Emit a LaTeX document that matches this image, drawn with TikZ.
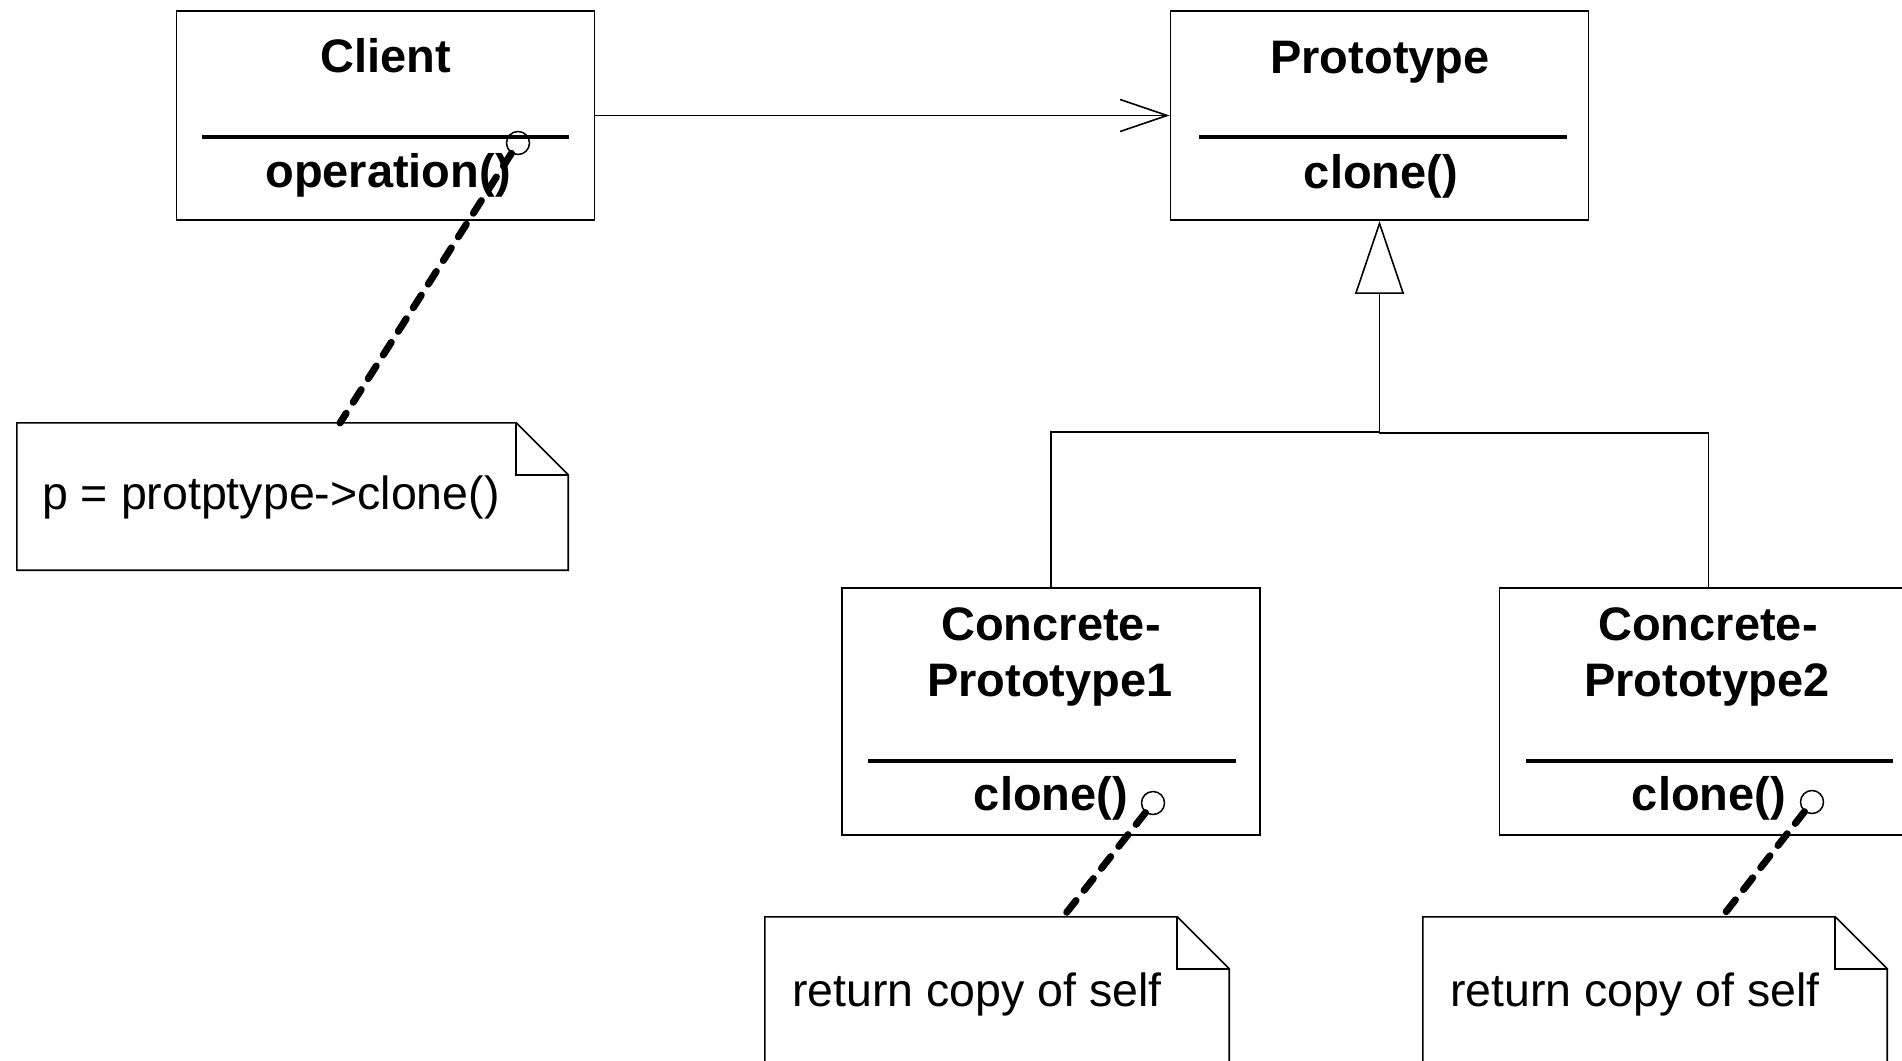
\documentclass[tikz,border=0pt]{standalone}
\usepackage{fontspec}
\setmainfont{Liberation Sans}
\usetikzlibrary{arrows.meta,calc}
\begin{document}
\begin{tikzpicture}[x=1pt,y=-1pt,
  cls/.style={draw,line width=1.8pt,inner sep=0pt,minimum width=418pt},
  ttl/.style={font=\fontsize{47}{56}\selectfont\bfseries,anchor=base,inner sep=0pt},
  ntext/.style={font=\fontsize{46.5}{56}\selectfont,anchor=base west,inner sep=0pt},
  sepline/.style={line width=3.2pt},
  dot/.style={circle,draw,line width=1.5pt,minimum size=23pt,inner sep=0pt},
  dashlink/.style={line width=7pt,dash pattern=on 15pt off 13pt,line cap=round},
  conn/.style={line width=1.6pt},
  notebox/.style={draw=none,inner sep=0pt},
  noteline/.style={line width=1.6pt}
]
\useasboundingbox (0,0) rectangle (1902,1060);

% classes
\node[cls,minimum height=209pt] (client) at (385.5,115.5) {};
\node[cls,minimum height=209pt] (proto) at (1379.5,115.5) {};
\node[cls,minimum height=247pt] (cp1) at (1051,711.5) {};
\node[cls,minimum height=247pt] (cp2) at (1708.5,711.5) {};

% Client contents
\node[ttl] (clientT) at (386,72) {Client};
\draw[sepline] (202,137) -- (569,137);
\node[ttl] (clientOp) at (388,187) {operation()};
\node[dot] (c1) at (518,143) {};

% Prototype contents
\node[ttl] (protoT) at (1380,73) {Prototype};
\draw[sepline] (1199,137) -- (1567,137);
\node[ttl] (protoOp) at (1381,188) {clone()};

% ConcretePrototype1
\node[ttl] (cp1a) at (1051,640) {Concrete-};
\node[ttl] (cp1b) at (1050,696) {Prototype1};
\draw[sepline] (868,761) -- (1236,761);
\node[ttl] (cp1op) at (1051,810) {clone()};
\node[dot] (c2) at (1153,803) {};

% ConcretePrototype2
\node[ttl] (cp2a) at (1708,640) {Concrete-};
\node[ttl] (cp2b) at (1707,696) {Prototype2};
\draw[sepline] (1526,761) -- (1893,761);
\node[ttl] (cp2op) at (1709,810) {clone()};
\node[dot] (c3) at (1812,802) {};

% notes
\node[notebox,minimum width=551pt,minimum height=147pt] (n1) at (292.5,496.5) {};
\draw[noteline] (n1.north west) -- ($(n1.north east)+(-52,0)$) -- ($(n1.north east)+(0,52)$) -- (n1.south east) -- (n1.south west) -- cycle;
\draw[noteline] ($(n1.north east)+(-52,0)$) |- ($(n1.north east)+(0,52)$);
\node[ntext] (n1t) at (42,509) {p = protptype->clone()};
\coordinate (n1top) at (340,423);

\node[notebox,minimum width=464pt,minimum height=200pt] (n2) at (997,1017) {};
\draw[noteline] (n2.north west) -- ($(n2.north east)+(-52,0)$) -- ($(n2.north east)+(0,52)$) -- (n2.south east) -- (n2.south west) -- cycle;
\draw[noteline] ($(n2.north east)+(-52,0)$) |- ($(n2.north east)+(0,52)$);
\node[ntext] (n2t) at (792,1006) {return copy of self};
\coordinate (n2top) at (1063,917);

\node[notebox,minimum width=464pt,minimum height=200pt] (n3) at (1655,1017) {};
\draw[noteline] (n3.north west) -- ($(n3.north east)+(-52,0)$) -- ($(n3.north east)+(0,52)$) -- (n3.south east) -- (n3.south west) -- cycle;
\draw[noteline] ($(n3.north east)+(-52,0)$) |- ($(n3.north east)+(0,52)$);
\node[ntext] (n3t) at (1450,1006) {return copy of self};
\coordinate (n3top) at (1722,917);

% dashed links
\draw[dashlink] (c1) -- (n1top);
\draw[dashlink] (c2) -- (n2top);
\draw[dashlink] (c3) -- (n3top);

% association
\draw[conn,-{Straight Barb[length=47pt,width=32pt,line width=1.6pt]}] (client.east) -- (proto.west);

% generalization
\draw[conn,-{Triangle[open,length=73pt,width=49pt,line width=1.6pt]}] (cp2.north) -- ++(0,-154) -| (proto.south);
\draw[conn] (cp1.north) |- ($(proto.south)+(0,211)$);
\end{tikzpicture}
\end{document}
